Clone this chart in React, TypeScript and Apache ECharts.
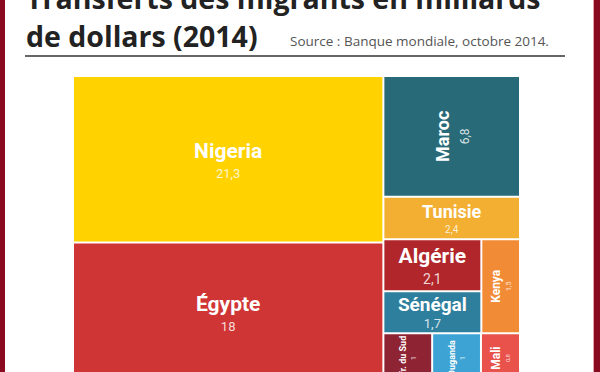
import { useEffect, useRef } from 'react';
import * as echarts from 'echarts';

// ---- data ----
const countries = ['Nigeria', 'Égypte', 'Maroc', 'Tunisie', 'Algérie', 'Sénégal', 'Kenya', 'Afr. du Sud', 'Ouganda', 'Mali'];
const values = [21.3, 18, 6.8, 2.4, 2.1, 1.7, 1.5, 1, 1, 0.8];
const colors = ['#FFD200', '#D03535', '#286A78', '#F2AF32', '#B0262B', '#2E7E9D', '#F28B36', '#8E2433', '#3DA3D4', '#E8524B'];

const titleLines = ['Transferts des migrants en milliards', 'de dollars (2014)'];
const sourceText = 'Source : Banque mondiale, octobre 2014.';

// label styling per country: [name size, value size, rotation, name line height, value line height]
const labelStyle: number[][] = [
  [21, 13, 0, 28, 17], [21, 13, 0, 28, 17], [18, 12, 90, 26, 18], [18, 10, 0, 24, 13], [21, 14, 0, 28, 18],
  [19, 13, 0, 23, 15], [12, 7, 90, 16, 10], [9, 7, 90, 12, 10], [9, 7, 90, 12, 10], [12, 6, 90, 15, 9],
];

const fmt = (v: number) => String(v).replace('.', ',');
const nameLH = (i: number) => labelStyle[i][3];
const valueLH = (i: number) => labelStyle[i][4];

const leaf = (i: number) => {
  const [ns, vs, rot] = labelStyle[i];
  return {
    name: countries[i],
    value: values[i],
    itemStyle: { color: colors[i], borderWidth: 1, borderColor: '#fff' },
    label: {
      rotate: rot,
      rich: {
        n: { fontSize: ns, fontWeight: 'bold', color: '#fff', fontFamily: 'Roboto', lineHeight: nameLH(i), align: 'center' },
        v: { fontSize: vs, color: 'rgba(255,255,255,0.82)', fontFamily: 'Roboto', lineHeight: valueLH(i), align: 'center' },
      },
    },
  };
};

// grouping only drives the squarified layout (left column / right column blocks)
const treeData = [
  leaf(0),
  leaf(1),
  {
    name: 'droite',
    children: [
      leaf(2),
      leaf(3),
      {
        name: 'bas',
        children: [
          { name: 'milieu', children: [{ name: 'duo', children: [leaf(4), leaf(5)] }, leaf(6)] },
          { name: 'petits', children: [leaf(7), leaf(8), leaf(9)] },
        ],
      },
    ],
  },
];

export default function App() {
  const ref = useRef<HTMLDivElement>(null);
  useEffect(() => {
    if (!ref.current) return;
    const chart = echarts.init(ref.current, undefined, { renderer: 'svg' });
    chart.setOption({
      animation: false,
      backgroundColor: '#fff',
      graphic: [
        { type: 'rect', shape: { x: 0, y: 0, width: 5, height: 372 }, style: { fill: '#8A0A1F' } },
        { type: 'rect', shape: { x: 593, y: 0, width: 1, height: 372 }, style: { fill: '#E4A3AB' } },
        { type: 'rect', shape: { x: 594, y: 0, width: 6, height: 372 }, style: { fill: '#8A0A1F' } },
        {
          type: 'text', x: 26, y: -2,
          style: { text: titleLines[0], fontSize: 28.5, fontWeight: 'bold', fontFamily: 'Open Sans', fill: '#222', verticalAlign: 'middle' },
        },
        {
          type: 'text', x: 26, y: 36,
          style: { text: titleLines[1], fontSize: 28.5, fontWeight: 'bold', fontFamily: 'Open Sans', fill: '#222', verticalAlign: 'middle' },
        },
        {
          type: 'text', x: 290, y: 41,
          style: { text: sourceText, fontSize: 13.5, fontFamily: 'Open Sans', fill: '#555', verticalAlign: 'middle' },
        },
        { type: 'line', shape: { x1: 25, y1: 56, x2: 565, y2: 56 }, style: { stroke: '#333', lineWidth: 1.5 } },
      ],
      series: [
        {
          type: 'treemap',
          left: 73,
          top: 76,
          width: 447,
          height: 307,
          squareRatio: 1.26,
          sort: false,
          roam: false,
          nodeClick: false,
          breadcrumb: { show: false },
          upperLabel: { show: false },
          itemStyle: { borderWidth: 0, gapWidth: 0, borderColor: '#fff' },
          label: {
            show: true,
            padding: 0,
            overflow: 'none',
            position: 'inside',
            formatter: (p: any) => `{n|${p.name}}\n{v|${fmt(p.value)}}`,
          },
          // centre the two-line label block inside its tile
          labelLayout: (p: any) => {
            const m = /\{n\|([^}]*)\}/.exec(p.text || '');
            if (!m) return {};
            const i = countries.indexOf(m[1]);
            if (i < 0 || !p.rect) return {};
            const ch = nameLH(i) + valueLH(i);
            return { dy: (p.rect.height - ch) / 2 };
          },
          emphasis: { disabled: true },
          data: treeData,
        },
      ],
    });
    return () => chart.dispose();
  }, []);
  return <div ref={ref} style={{ position: 'fixed', left: 0, top: 0, width: 600, height: 372 }} />;
}
